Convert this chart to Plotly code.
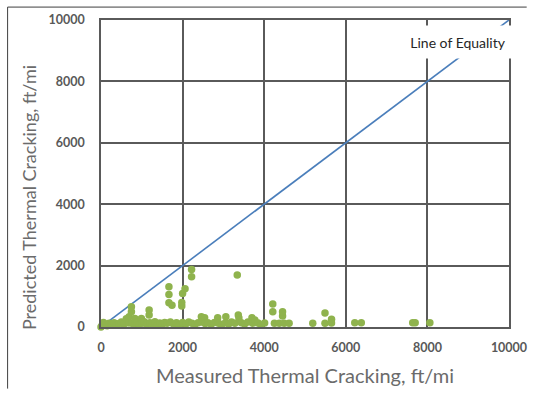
import plotly.graph_objects as go

# Measured vs. predicted thermal cracking (ft/mi)
measured = [0, 30, 60, 100, 150, 200, 260, 320, 380, 440, 500, 560, 620, 680, 690,
            745, 745, 760, 820, 830, 880, 940, 990, 1000, 1060, 1120, 1180, 1180,
            1200, 1260, 1320, 1380, 1440, 1500, 1560, 1620, 1665, 1665, 1665, 1740,
            1700, 1780, 1850, 1920, 1980, 1980, 2000, 2060, 2000, 2080, 2150, 2220,
            2220, 2230, 2300, 2380, 2460, 2470, 2540, 2550, 2620, 2700, 2780, 2860,
            2880, 2960, 3060, 3050, 3130, 3200, 3280, 3340, 3365, 3380, 3440, 3520,
            3600, 3700, 3720, 3770, 3850, 3920, 4010, 4210, 4210, 4250, 4370, 4450,
            4450, 4490, 4610, 5190, 5490, 5490, 5650, 5650, 6220, 6380, 7640, 7700,
            8060]
predicted = [0, 60, 150, 100, 40, 120, 80, 140, 60, 110, 160, 90, 270, 130, 335,
             500, 660, 120, 60, 280, 150, 90, 280, 120, 170, 80, 390, 550,
             140, 100, 170, 60, 130, 90, 150, 120, 790, 1060, 1310, 710,
             160, 90, 140, 60, 680, 800, 1090, 1250, 150, 100, 160, 1640,
             1870, 120, 80, 140, 335, 160, 300, 110, 140, 90, 150, 300,
             120, 80, 335, 140, 100, 160, 120, 1690, 390, 290, 140, 100,
             160, 300, 120, 230, 130, 60, 130, 500, 750, 120, 120, 360,
             500, 120, 120, 120, 460, 120, 250, 130, 140, 140, 140, 140,
             140]

equality = [0, 10000]
ticks = [0, 2000, 4000, 6000, 8000, 10000]

GRID = "#5a5a5a"
TICKC = "#595959"

fig = go.Figure()
fig.add_trace(go.Scatter(x=equality, y=equality, mode="lines",
                         line=dict(color="#4a7ebb", width=1.6),
                         hoverinfo="skip", showlegend=False))
fig.add_trace(go.Scatter(x=measured, y=predicted, mode="markers",
                         marker=dict(color="#8fb34d", size=7.5),
                         cliponaxis=False, showlegend=False))

axis_common = dict(range=[0, 10000], tickvals=ticks, ticktext=[str(t) for t in ticks],
                   showgrid=True, gridcolor=GRID, gridwidth=1.5,
                   showline=True, linecolor=GRID, linewidth=1.5, mirror=True,
                   zeroline=False, ticks="",
                   tickfont=dict(family="Lato", size=12.5, color=TICKC, weight="bold"))

fig.update_xaxes(**axis_common, ticklabelstandoff=8)
fig.update_yaxes(**axis_common, ticklabelstandoff=12)

L, R, T, B = 101, 23, 18, 68
W, H = 539, 395
pw, ph = W - L - R, H - T - B

def px_x(p):
    return (p - L) / pw

def px_y(p):
    return 1 - (p - T) / ph

fig.update_layout(
    width=W, height=H,
    margin=dict(l=L, r=R, t=T, b=B),
    paper_bgcolor="white", plot_bgcolor="white",
    shapes=[
        dict(type="line", xref="paper", yref="paper",
             x0=px_x(6), x1=px_x(534), y0=px_y(5), y1=px_y(5),
             line=dict(color="#3f3f3f", width=1)),
        dict(type="line", xref="paper", yref="paper",
             x0=px_x(6), x1=px_x(6), y0=px_y(5), y1=px_y(389),
             line=dict(color="#3f3f3f", width=1)),
    ],
    annotations=[
        dict(text="Line of Equality", xref="paper", yref="paper",
             x=px_x(464), y=px_y(40), xanchor="center", yanchor="middle",
             showarrow=False,
             font=dict(family="Lato", size=14, color="#262626"),
             bgcolor="white", width=118, height=30),
        dict(text="Measured Thermal Cracking, ft/mi", xref="paper", yref="paper",
             x=px_x(308), y=px_y(375), xanchor="center", yanchor="middle",
             showarrow=False,
             font=dict(family="Lato", size=20, color="#6b6b6b")),
        dict(text="Predicted Thermal Cracking, ft/mi", xref="paper", yref="paper",
             x=px_x(28), y=px_y(197), xanchor="center", yanchor="middle",
             showarrow=False, textangle=-90,
             font=dict(family="Lato", size=18, color="#6b6b6b")),
    ],
)

fig.write_html("out.html")
